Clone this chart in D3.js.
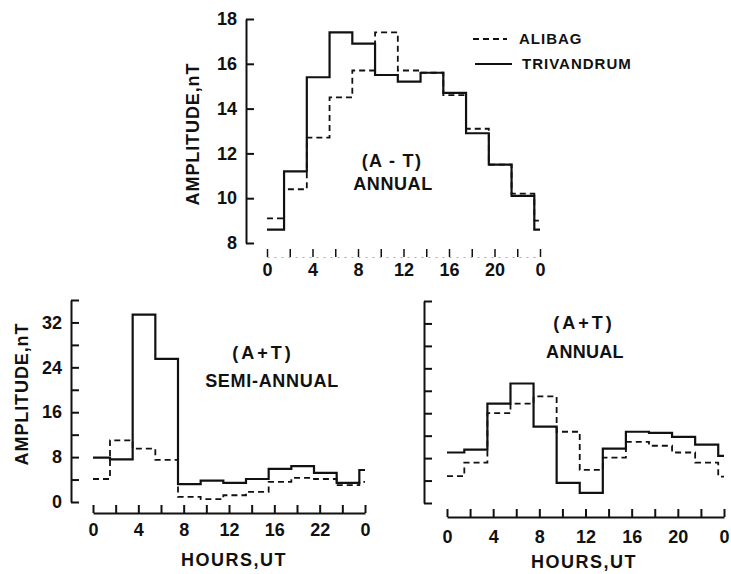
<!DOCTYPE html>
<html lang="en">
<head>
<meta charset="UTF-8">
<title>Alibag / Trivandrum amplitudes</title>
<script src="https://d3js.org/d3.v7.min.js"></script>
<style>
  body { margin: 0; background: #fff; }
  svg { display: block; font-family: "Liberation Sans", Arial, sans-serif; }
  .axis path, .axis line { stroke: #111; stroke-width: 2; }
  .axis text { font-size: 18px; font-weight: bold; fill: #111; font-family: "Liberation Sans", Arial, sans-serif; }
  .lbl { font-size: 18px; font-weight: bold; fill: #111; }
  .solid { fill: none; stroke: #111; stroke-width: 2.2; }
  .dash { fill: none; stroke: #111; stroke-width: 1.8; stroke-dasharray: 6 4; }
</style>
</head>
<body>
<div id="chart"></div>
<script>
// bin edges in hours UT (2-hour bins, first/last half bins)
const hourEdges = [0, 1.5, 3.5, 5.5, 7.5, 9.5, 11.5, 13.5, 15.5, 17.5, 19.5, 21.5, 23.5, 24];

// (A-T) annual, nT
const topAlibag     = [9.1, 10.4, 12.7, 14.5, 15.7, 17.4, 15.7, 15.6, 14.6, 13.1, 11.5, 10.2, 9.0];
const topTrivandrum = [8.6, 11.2, 15.4, 17.4, 16.9, 15.5, 15.2, 15.6, 14.7, 12.9, 11.5, 10.1, 8.6];

// (A+T) semi-annual, nT
const semiAlibag     = [4.1, 11.0, 9.5, 7.5, 0.9, 0.5, 1.2, 1.8, 3.6, 4.3, 4.1, 3.0, 3.6];
const semiTrivandrum = [7.9, 7.6, 33.4, 25.5, 3.2, 3.8, 3.4, 4.1, 5.9, 6.4, 5.2, 3.4, 5.7];

// (A+T) annual, nT
const annAlibag     = [4.8, 7.2, 16.0, 17.7, 19.0, 12.7, 5.9, 8.1, 10.9, 10.2, 9.0, 7.2, 4.7];
const annTrivandrum = [9.0, 9.5, 17.7, 21.3, 13.6, 3.6, 1.8, 9.7, 12.7, 12.5, 11.8, 10.4, 8.4];

// ticks
const hourTicks = d3.range(0, 25, 2);
const hourLabelAt = [0, 4, 8, 12, 16, 20, 24];
const topHourLabels = ["0", "4", "8", "12", "16", "20", "0"];
const semiHourLabels = ["0", "4", "8", "12", "16", "22", "0"];
const annHourLabels = ["0", "4", "8", "12", "16", "20", "0"];
const topYTicks = [8, 10, 12, 14, 16, 18];
const lowYTicks = d3.range(0, 37, 4);
const semiYLabels = [0, 8, 16, 24, 32];

const svg = d3.select("#chart").append("svg")
    .attr("width", 731)
    .attr("height", 574);

function steps(vals) {
    const pts = vals.map((v, i) => [hourEdges[i], v]);
    pts.push([hourEdges[hourEdges.length - 1], vals[vals.length - 1]]);
    return pts;
}

function panel(p) {
    const x = d3.scaleLinear().domain([0, 24]).range(p.xr);
    const y = d3.scaleLinear().domain(p.yd).range(p.yr);
    const g = svg.append("g");

    // y axis (ticks point inward)
    g.append("g").attr("class", "axis")
        .attr("transform", `translate(${p.yx},0)`)
        .call(d3.axisLeft(y).tickValues(p.yTicks).tickSizeInner(-8).tickSizeOuter(0).tickPadding(9)
            .tickFormat(d => p.yLabels ? (p.yLabels.includes(d) ? d : "") : ""));

    // x axis (ticks point up)
    const labelOf = d => {
        const i = hourLabelAt.indexOf(d);
        return i < 0 ? "" : p.xLabels[i];
    };
    const xa = g.append("g").attr("class", "axis")
        .attr("transform", `translate(0,${p.xy})`)
        .call(d3.axisBottom(x).tickValues(hourTicks).tickSizeInner(-8).tickSizeOuter(0)
            .tickPadding(p.xPad).tickFormat(labelOf));
    if (p.faintX) {
        xa.select(".domain").style("stroke", "#aaa").style("stroke-width", 1).style("stroke-dasharray", "2 5");
        xa.selectAll(".tick line").style("stroke-width", 1.5);
    }

    const line = d3.line().x(d => x(d[0])).y(d => y(d[1])).curve(d3.curveStepAfter);
    g.append("path").attr("class", "dash").attr("d", line(steps(p.alibag)));
    g.append("path").attr("class", "solid").attr("d", line(steps(p.trivandrum)));

    if (p.yTitle) {
        g.append("text").attr("class", "lbl")
            .attr("transform", `translate(${p.yTitle[0]},${p.yTitle[1]}) rotate(-90)`)
            .attr("text-anchor", "middle")
            .attr("dy", "0.35em")
            .style("letter-spacing", "0.9px")
            .text("AMPLITUDE,nT");
    }
    if (p.xTitle) {
        g.append("text").attr("class", "lbl")
            .attr("x", p.xTitle[0]).attr("y", p.xTitle[1])
            .attr("text-anchor", "middle").attr("dy", "0.35em")
            .style("letter-spacing", "1.5px")
            .text("HOURS,UT");
    }
    p.notes.forEach(n => {
        g.append("text").attr("class", "lbl")
            .attr("x", n[0]).attr("y", n[1])
            .attr("text-anchor", "middle").attr("dy", "0.35em")
            .style("letter-spacing", n[3] + "px")
            .text(n[2]);
    });
}

panel({
    xr: [267, 540], yd: [8, 18], yr: [243, 19], yx: 246, xy: 257, xPad: 6, faintX: true,
    yTicks: topYTicks, yLabels: topYTicks, xLabels: topHourLabels,
    alibag: topAlibag, trivandrum: topTrivandrum,
    yTitle: [193, 134],
    notes: [[392, 161, "(A - T)", 1.3], [393, 184, "ANNUAL", 0.6]]
});

panel({
    xr: [93, 365], yd: [0, 36], yr: [502, 300], yx: 71, xy: 513, xPad: 10,
    yTicks: lowYTicks, yLabels: semiYLabels, xLabels: semiHourLabels,
    alibag: semiAlibag, trivandrum: semiTrivandrum,
    yTitle: [22, 394], xTitle: [234, 560],
    notes: [[263, 353, "(A+T)", 3], [272, 381, "SEMI-ANNUAL", 0.7]]
});

panel({
    xr: [447, 724], yd: [0, 36], yr: [503, 301], yx: 424, xy: 517, xPad: 13,
    yTicks: lowYTicks, yLabels: null, xLabels: annHourLabels,
    alibag: annAlibag, trivandrum: annTrivandrum,
    xTitle: [584, 562],
    notes: [[584, 323, "(A+T)", 3], [585, 352, "ANNUAL", 0.3]]
});

// legend
const legend = svg.append("g");
const legendItems = [
    { name: "ALIBAG", cls: "dash", y: 39, x0: 473, x1: 507, tx: 519 },
    { name: "TRIVANDRUM", cls: "solid", y: 64, x0: 475, x1: 512, tx: 522 }
];
legendItems.forEach(d => {
    legend.append("line").attr("class", d.cls)
        .attr("x1", d.x0).attr("x2", d.x1).attr("y1", d.y).attr("y2", d.y);
    legend.append("text").attr("class", "lbl")
        .attr("x", d.tx).attr("y", d.y).attr("dy", "0.35em")
        .style("font-size", "15px").style("letter-spacing", "1px")
        .text(d.name);
});
</script>
</body>
</html>
